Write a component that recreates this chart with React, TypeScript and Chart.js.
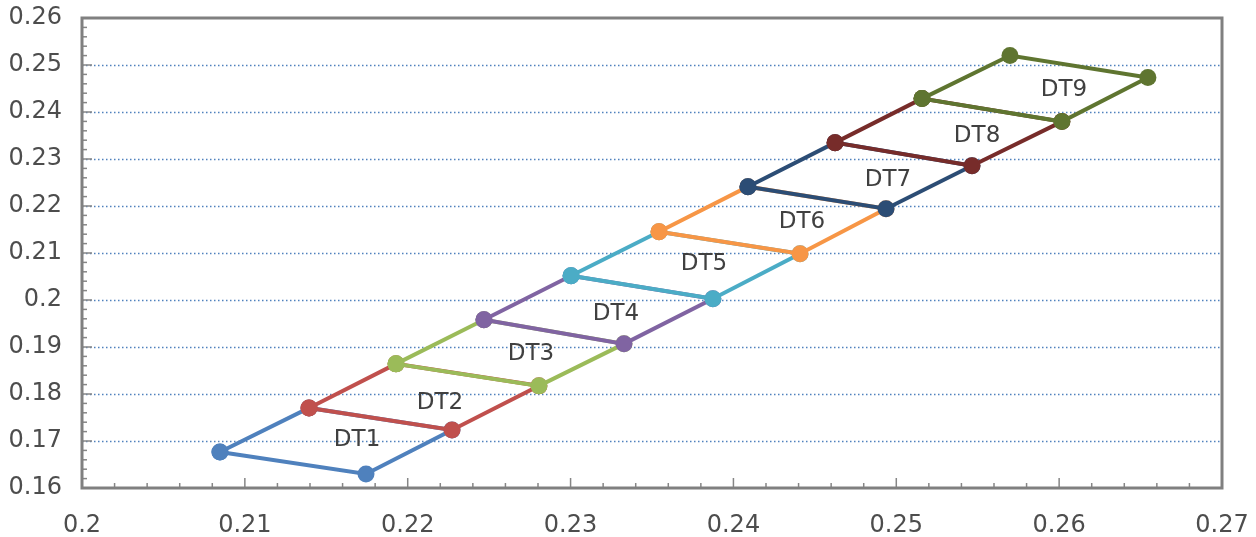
import React, { useEffect, useRef } from 'react';
import { Chart, registerables } from 'chart.js';

Chart.register(...registerables);

// ---- data ----
const seriesNames = ['DT1', 'DT2', 'DT3', 'DT4', 'DT5', 'DT6', 'DT7', 'DT8', 'DT9'];
const seriesColors = ['#4F81BD', '#C0504D', '#9BBB59', '#8064A2', '#4BACC6', '#F79646', '#2C4D75', '#772C2A', '#5F7530'];

// upper-left chain of corner points
const leftX = [0.20847, 0.21394, 0.21928, 0.22468, 0.23003, 0.23543, 0.24089, 0.24624, 0.25158, 0.25698];
const leftY = [0.16767, 0.17704, 0.18641, 0.19578, 0.20515, 0.21453, 0.22411, 0.23348, 0.24285, 0.25201];
// lower-right chain of corner points
const rightX = [0.21744, 0.22272, 0.22806, 0.23328, 0.23874, 0.24409, 0.24937, 0.25465, 0.26017, 0.26545];
const rightY = [0.16298, 0.17235, 0.18173, 0.19067, 0.20026, 0.20984, 0.21943, 0.22858, 0.23796, 0.24733];

// data-label positions
const labelX = [0.21689, 0.22198, 0.22757, 0.23279, 0.23819, 0.24421, 0.24949, 0.25496, 0.2603];
const labelY = [0.17030, 0.17815, 0.18860, 0.19710, 0.20755, 0.21650, 0.22545, 0.23480, 0.24460];

const xTicks = [0.2, 0.21, 0.22, 0.23, 0.24, 0.25, 0.26, 0.27];
const yTicks = [0.16, 0.17, 0.18, 0.19, 0.2, 0.21, 0.22, 0.23, 0.24, 0.25, 0.26];
const xTickLabels = ['0.2', '0.21', '0.22', '0.23', '0.24', '0.25', '0.26', '0.27'];
const yTickLabels = ['0.16', '0.17', '0.18', '0.19', '0.2', '0.21', '0.22', '0.23', '0.24', '0.25', '0.26'];
const minorStep = 0.002;

const FONT = "'DejaVu Sans', sans-serif";

const framePlugin = {
  id: 'excelFrame',
  beforeDatasetsDraw(chart: any) {
    const { ctx, chartArea } = chart;
    const xs = chart.scales.x;
    const ys = chart.scales.y;
    const { left, right, top, bottom } = chartArea;
    ctx.save();
    // dotted horizontal gridlines
    ctx.strokeStyle = '#4F81BD';
    ctx.lineWidth = 1.5;
    ctx.setLineDash([1.5, 2.5]);
    yTicks.forEach((v, i) => {
      if (i === 0 || i === yTicks.length - 1) return;
      const py = Math.round(ys.getPixelForValue(v)) + 0.5;
      ctx.beginPath();
      ctx.moveTo(left, py);
      ctx.lineTo(right, py);
      ctx.stroke();
    });
    ctx.setLineDash([]);
    // minor/major ticks (inward)
    ctx.strokeStyle = '#868686';
    ctx.lineWidth = 1.5;
    const yMin = yTicks[0];
    const yMax = yTicks[yTicks.length - 1];
    const nY = Math.round((yMax - yMin) / minorStep);
    for (let k = 0; k <= nY; k++) {
      const v = yMin + k * minorStep;
      const py = ys.getPixelForValue(v);
      const len = k % 5 === 0 ? 10 : 5;
      ctx.beginPath();
      ctx.moveTo(left, py);
      ctx.lineTo(left + len, py);
      ctx.stroke();
    }
    const xMin = xTicks[0];
    const xMax = xTicks[xTicks.length - 1];
    const nX = Math.round((xMax - xMin) / minorStep);
    for (let k = 0; k <= nX; k++) {
      const v = xMin + k * minorStep;
      const px = xs.getPixelForValue(v);
      const len = k % 5 === 0 ? 10 : 5;
      ctx.beginPath();
      ctx.moveTo(px, bottom);
      ctx.lineTo(px, bottom - len);
      ctx.stroke();
    }
    // frame
    ctx.strokeStyle = '#808080';
    ctx.lineWidth = 3;
    ctx.strokeRect(left, top, right - left, bottom - top);
    ctx.restore();
  },
  afterDatasetsDraw(chart: any) {
    const { ctx } = chart;
    const xs = chart.scales.x;
    const ys = chart.scales.y;
    ctx.save();
    ctx.font = `23px ${FONT}`;
    ctx.fillStyle = '#404040';
    ctx.textAlign = 'center';
    ctx.textBaseline = 'middle';
    seriesNames.forEach((name, i) => {
      ctx.fillText(name, xs.getPixelForValue(labelX[i]), ys.getPixelForValue(labelY[i]));
    });
    ctx.restore();
  },
};

export default function App() {
  const canvasRef = useRef<HTMLCanvasElement | null>(null);

  useEffect(() => {
    const canvas = canvasRef.current;
    if (!canvas) return;
    const datasets = seriesNames.map((name, i) => ({
      label: name,
      data: [
        { x: leftX[i], y: leftY[i] },
        { x: rightX[i], y: rightY[i] },
        { x: rightX[i + 1], y: rightY[i + 1] },
        { x: leftX[i + 1], y: leftY[i + 1] },
        { x: leftX[i], y: leftY[i] },
      ],
      showLine: true,
      borderColor: seriesColors[i],
      backgroundColor: seriesColors[i],
      pointBackgroundColor: seriesColors[i],
      pointBorderColor: seriesColors[i],
      pointRadius: 8.5,
      pointBorderWidth: 0,
      borderWidth: 4,
      tension: 0,
      order: seriesNames.length - i,
    }));

    const chart = new Chart(canvas, {
      type: 'scatter',
      data: { datasets },
      plugins: [framePlugin],
      options: {
        animation: false,
        responsive: false,
        maintainAspectRatio: false,
        layout: { padding: { top: 18, right: 34, bottom: 0, left: 0 } },
        plugins: {
          legend: { display: false },
          tooltip: { enabled: false },
        },
        scales: {
          x: {
            type: 'linear',
            min: xTicks[0],
            max: xTicks[xTicks.length - 1],
            afterBuildTicks: (scale: any) => {
              scale.ticks = xTicks.map((v) => ({ value: v }));
            },
            afterFit: (scale: any) => {
              scale.height = 49;
              scale.paddingLeft = 0;
              scale.paddingRight = 0;
              scale.paddingTop = 0;
              scale.paddingBottom = 0;
            },
            grid: { display: false, drawTicks: false },
            border: { display: false },
            ticks: {
              padding: 23,
              color: '#4d4d4d',
              font: { family: FONT, size: 24 },
              maxRotation: 0,
              autoSkip: false,
              callback: (_v: any, idx: number) => xTickLabels[idx],
            },
          },
          y: {
            type: 'linear',
            min: yTicks[0],
            max: yTicks[yTicks.length - 1],
            afterBuildTicks: (scale: any) => {
              scale.ticks = yTicks.map((v) => ({ value: v }));
            },
            afterFit: (scale: any) => {
              scale.width = 82;
              scale.paddingLeft = 0;
              scale.paddingRight = 0;
              scale.paddingTop = 0;
              scale.paddingBottom = 0;
            },
            grid: { display: false, drawTicks: false },
            border: { display: false },
            ticks: {
              padding: 20,
              color: '#4d4d4d',
              font: { family: FONT, size: 24 },
              autoSkip: false,
              callback: (_v: any, idx: number) => yTickLabels[idx],
            },
          },
        },
      },
    });
    return () => chart.destroy();
  }, []);

  return (
    <div style={{ position: 'absolute', left: 0, top: 0, width: 1256, height: 537, background: '#ffffff' }}>
      <canvas ref={canvasRef} width={1256} height={537} style={{ display: 'block' }} />
    </div>
  );
}
